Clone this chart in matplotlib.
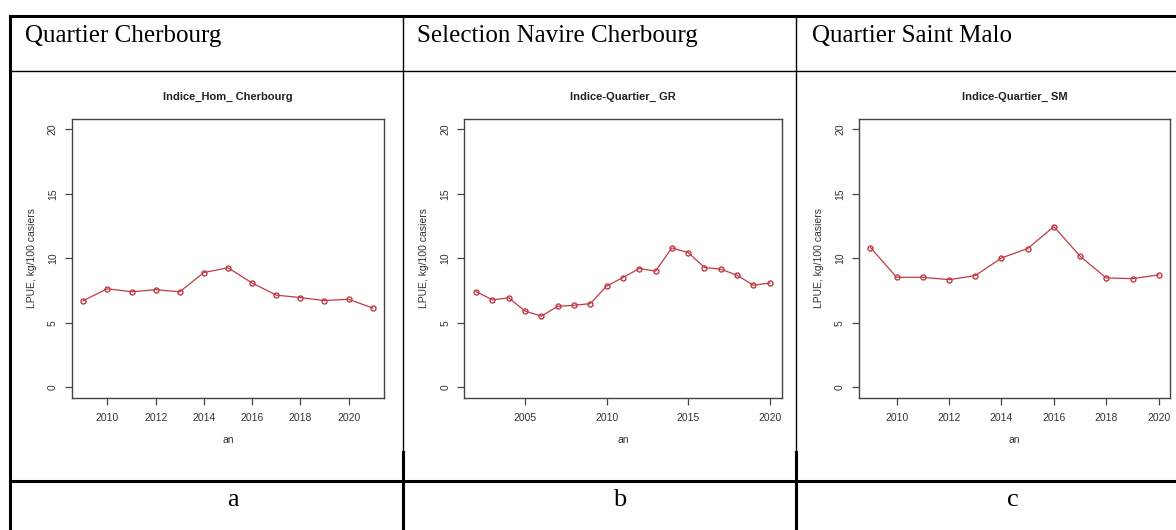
import matplotlib.pyplot as plt
from matplotlib.lines import Line2D

# data
years_cher = [2009, 2010, 2011, 2012, 2013, 2014, 2015, 2016, 2017, 2018, 2019, 2020, 2021]
lpue_cher = [6.73, 7.64, 7.41, 7.57, 7.41, 8.90, 9.27, 8.09, 7.15, 6.96, 6.73, 6.83, 6.15]

years_gr = list(range(2002, 2021))
lpue_gr = [7.43, 6.78, 6.94, 5.92, 5.52, 6.28, 6.36, 6.49, 7.85, 8.51, 9.21, 9.01,
           10.81, 10.45, 9.29, 9.16, 8.69, 7.91, 8.09]

years_sm = list(range(2009, 2021))
lpue_sm = [10.84, 8.53, 8.53, 8.35, 8.66, 10.03, 10.76, 12.46, 10.16, 8.48, 8.43, 8.72]

headers = ['Quartier Cherbourg', 'Selection Navire Cherbourg', 'Quartier Saint Malo']
titles = ['Indice_Hom_ Cherbourg', 'Indice-Quartier_ GR', 'Indice-Quartier_ SM']
letters = ['a', 'b', 'c']
xticks = [range(2010, 2021, 2), range(2005, 2021, 5), range(2010, 2021, 2)]

W, H = 1176, 530
fig = plt.figure(figsize=(W / 100, H / 100), dpi=100)
fig.patch.set_facecolor('white')


def fx(px):
    return px / W


def fy(py):
    return 1 - py / H


def hline(y, x0, x1, lw):
    fig.add_artist(Line2D([fx(x0), fx(x1)], [fy(y), fy(y)], color='black', lw=lw,
                          transform=fig.transFigure))


def vline(x, y0, y1, lw):
    fig.add_artist(Line2D([fx(x), fx(x)], [fy(y0), fy(y1)], color='black', lw=lw,
                          transform=fig.transFigure))


# table grid
hline(15.5, 10, W, 2.2)
hline(71, 10, W, 1.0)
hline(481, 10, W, 2.2)
vline(10, 15.5, H, 2.2)
vline(403, 15.5, 481, 1.0)
vline(795.5, 15.5, 481, 1.0)
vline(403, 481, H, 2.2)
vline(795.5, 481, H, 2.2)
vline(403, 452, 481, 2.2)
vline(795.5, 452, 481, 2.2)

header_x = [25, 417, 811.5]
letter_x = [233, 620, 1013]
axes_px = [(71.7, 384.3), (464.3, 781.5), (858.9, 1170.3)]
series = [(years_cher, lpue_cher), (years_gr, lpue_gr), (years_sm, lpue_sm)]

ax_top, ax_bot = 119, 397.7
red = '#c03a45'
grey = '#444444'

for i in range(3):
    fig.text(fx(header_x[i]), fy(41.7), headers[i], family='Liberation Serif',
             fontsize=18, va='baseline', ha='left')
    fig.text(fx(letter_x[i]), fy(506), letters[i], family='Liberation Serif',
             fontsize=19, va='baseline', ha='center')

    l, r = axes_px[i]
    ax = fig.add_axes([fx(l), fy(ax_bot), fx(r - l), (ax_bot - ax_top) / H])
    x, y = series[i]
    ax.plot(x, y, color=red, lw=0.9, marker='o', markersize=3.6,
            markerfacecolor='none', markeredgecolor=red, markeredgewidth=1.0)
    span = max(x) - min(x)
    ax.set_xlim(min(x) - 0.04 * span, max(x) + 0.04 * span)
    ax.set_ylim(-0.8, 20.8)
    ax.set_xticks(list(xticks[i]))
    ax.set_yticks([0, 5, 10, 15, 20])
    for s in ax.spines.values():
        s.set_color(grey)
        s.set_linewidth(1.0)
    ax.tick_params(axis='both', direction='out', length=5, width=0.9, color=grey,
                   labelsize=7.5, labelcolor='#333333')
    ax.tick_params(axis='x', pad=6)
    ax.tick_params(axis='y', pad=5, labelrotation=90)
    for lab in ax.get_yticklabels():
        lab.set_va('center')
        lab.set_family('Liberation Sans')
    for lab in ax.get_xticklabels():
        lab.set_family('Liberation Sans')

    cx = (l + r) / 2
    fig.text(fx(cx), fy(97), titles[i], family='Liberation Sans', fontweight='bold',
             fontsize=8, ha='center', va='center', color='#222222')
    fig.text(fx(cx), fy(440), 'an', family='Liberation Sans', fontsize=7.5,
             ha='center', va='center', color='#333333')
    fig.text(fx(l - 40), fy((ax_top + ax_bot) / 2), 'LPUE, kg/100 casiers',
             family='Liberation Sans', fontsize=7.5, rotation=90,
             ha='center', va='center', color='#333333')

fig.savefig('out.png', dpi=100, facecolor='white')
